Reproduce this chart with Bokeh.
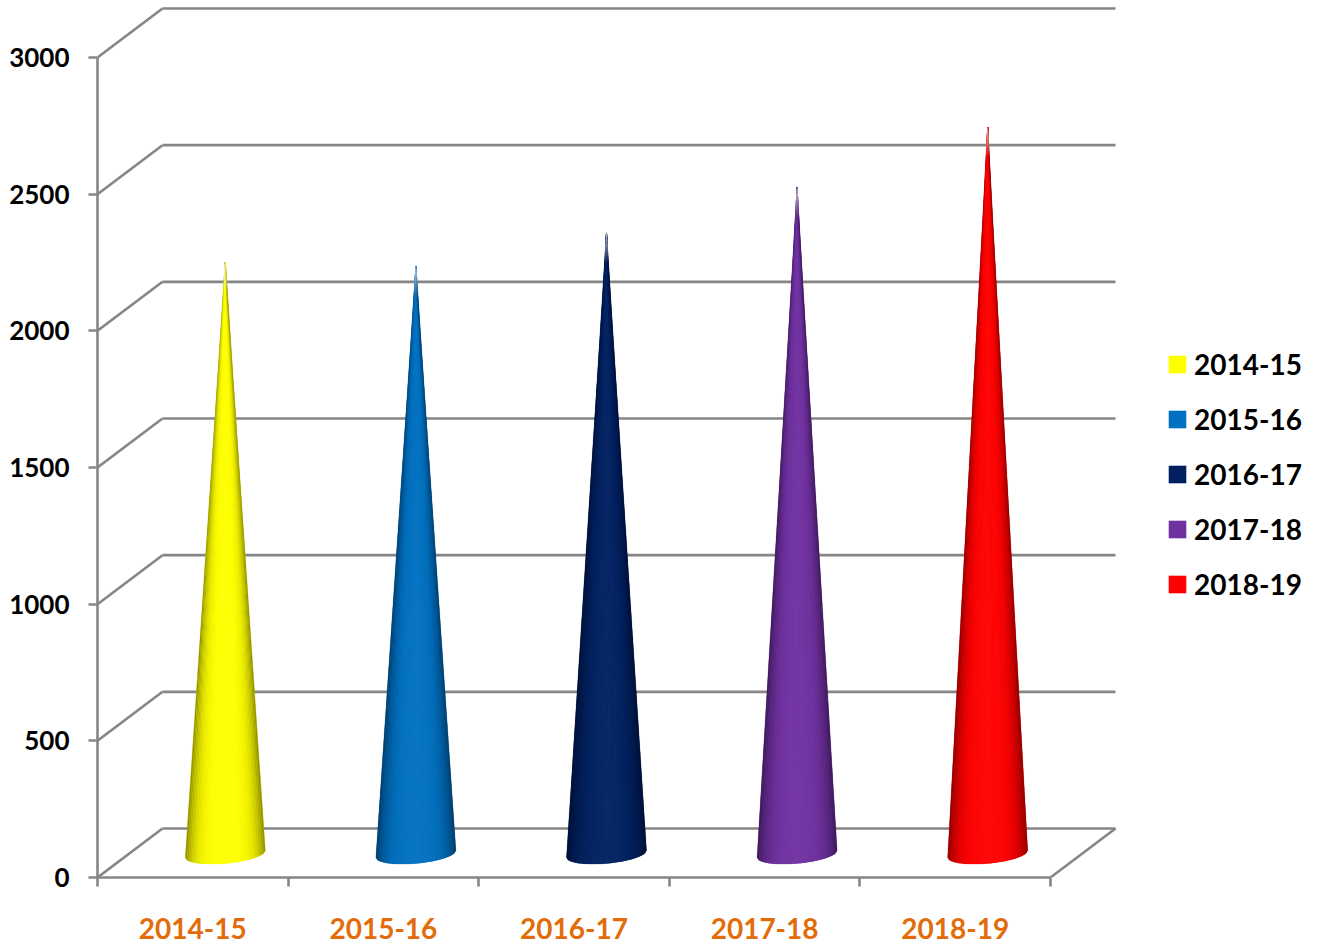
import numpy as np
from bokeh.embed import file_html
from bokeh.models import FixedTicker, Legend, LegendItem, Range1d
from bokeh.plotting import figure
from bokeh.resources import INLINE

categories = ["2014-15", "2015-16", "2016-17", "2017-18", "2018-19"]
values = [2164, 2150, 2270, 2438, 2657]
colors = ["#FFFF00", "#0070C0", "#002060", "#7030A0", "#FF0000"]
y_ticks = [0, 500, 1000, 1500, 2000, 2500, 3000]

AXIS = "#868686"
LABEL = "#E36C0A"
FONT = "Lato"

PX_X = 190.6          # pixels per category
PX_Y = 820 / 3000     # pixels per value unit
DEPTH_X = 65 / PX_X   # floor depth, in data units
DEPTH_Y = 49 / PX_Y
HALF_W = 40 / PX_X    # cone base half width
ARC = 9.5 / PX_Y      # front arc depth of the base
TILT = 3.5 / PX_Y     # base tilt
N = 48
FADE_BANDS = 12
FADE_UNITS = 30 / PX_Y

LEFT, BOTTOM = 97, 70
WIDTH, HEIGHT = 1316, 947
FRAME_W, FRAME_H = WIDTH - LEFT, HEIGHT - BOTTOM
p = figure(
    frame_width=FRAME_W, frame_height=FRAME_H, output_backend="svg", toolbar_location=None,
    x_range=Range1d(0, FRAME_W / PX_X), y_range=Range1d(0, FRAME_H / PX_Y),
    min_border_left=LEFT, min_border_right=0, min_border_top=0, min_border_bottom=BOTTOM,
    background_fill_color="white", border_fill_color="white",
)
p.outline_line_color = None
p.grid.visible = False

# 3-D walls and floor
x0, y0, x1, y1 = [], [], [], []
for t in y_ticks:
    x0 += [0, DEPTH_X]
    y0 += [t, t + DEPTH_Y]
    x1 += [DEPTH_X, len(categories) + DEPTH_X]
    y1 += [t + DEPTH_Y, t + DEPTH_Y]
x0.append(len(categories)); y0.append(0)
x1.append(len(categories) + DEPTH_X); y1.append(DEPTH_Y)
p.segment(x0, y0, x1, y1, line_color=AXIS, line_width=2.6)


def rgb(hex_color):
    return np.array([int(hex_color[i:i + 2], 16) for i in (1, 3, 5)], dtype=float)


legend_items = []
for i, (name, val, col) in enumerate(zip(categories, values, colors)):
    cx = i + 0.5 + DEPTH_X / 2
    base = DEPTH_Y / 2 - 3.5
    u = np.linspace(-1, 1, N + 1)
    s = np.sqrt(1 - u ** 2)
    ax = cx + HALF_W * u
    ay = base + TILT * u - ARC * s
    apex_y = base + val
    outline = p.patch(
        [cx] + list(ax), [apex_y] + list(ay),
        fill_color=col, line_color=None,
    )
    c = rgb(col)
    xs, ys, fills = [], [], []
    for j in range(N):
        um = abs((u[j] + u[j + 1]) / 2)
        shade = 1 - 0.45 * um ** 4
        lift = 0.05 * (1 - um)
        v = np.clip(c * shade + (255 - c) * lift, 0, 255).astype(int)
        fills.append("#%02x%02x%02x" % tuple(v))
        xs.append([cx, ax[j], ax[j + 1]])
        ys.append([apex_y, ay[j], ay[j + 1]])
    p.patches(xs, ys, fill_color=fills, line_color=fills, line_width=0.25)

    # the very tip of each cone fades out towards white
    fx, fy, fa = [], [], []
    for k in range(FADE_BANDS):
        d0, d1 = k / FADE_BANDS * FADE_UNITS, (k + 1) / FADE_BANDS * FADE_UNITS
        w0 = HALF_W * d0 / val * 1.4 + 0.002
        w1 = HALF_W * d1 / val * 1.4 + 0.002
        fx.append([cx - w0, cx + w0, cx + w1, cx - w1])
        fy.append([apex_y - d0, apex_y - d0, apex_y - d1, apex_y - d1])
        fa.append(0.75 * (1 - (k + 0.5) / FADE_BANDS))
    p.patches(fx, fy, fill_color="white", fill_alpha=fa, line_color=None)
    legend_items.append(LegendItem(label=name, renderers=[outline]))

# axes
xa = p.xaxis[0]
xa.ticker = FixedTicker(
    ticks=[i + 0.5 for i in range(len(categories))],
    minor_ticks=list(range(len(categories) + 1)),
)
xa.major_label_overrides = {i + 0.5: c for i, c in enumerate(categories)}
xa.bounds = (0, len(categories))
xa.axis_line_color = AXIS
xa.axis_line_width = 2.6
xa.major_tick_line_color = None
xa.major_tick_in = 0
xa.major_tick_out = 0
xa.minor_tick_line_color = AXIS
xa.minor_tick_line_width = 2.6
xa.minor_tick_in = 0
xa.minor_tick_out = 9
xa.major_label_standoff = 31
xa.major_label_text_color = LABEL
xa.major_label_text_font = FONT
xa.major_label_text_font_style = "bold"
xa.major_label_text_font_size = "28px"

ya = p.yaxis[0]
ya.ticker = FixedTicker(ticks=y_ticks, minor_ticks=[])
ya.bounds = (0, 3000)
ya.axis_line_color = AXIS
ya.axis_line_width = 2.6
ya.major_tick_line_color = AXIS
ya.major_tick_line_width = 2.6
ya.major_tick_in = 0
ya.major_tick_out = 9
ya.major_label_standoff = 19
ya.major_label_text_color = "black"
ya.major_label_text_font = FONT
ya.major_label_text_font_style = "bold"
ya.major_label_text_font_size = "26px"

legend = Legend(
    items=legend_items, location=(1069, 276), padding=0, margin=0,
    spacing=21, glyph_width=22, glyph_height=22, label_standoff=6,
    label_text_font=FONT, label_text_font_style="bold",
    label_text_font_size="28px", label_text_color="black",
    border_line_color=None, background_fill_color=None,
)
p.add_layout(legend, "center")

open("out.html", "w").write(file_html(p, INLINE))
